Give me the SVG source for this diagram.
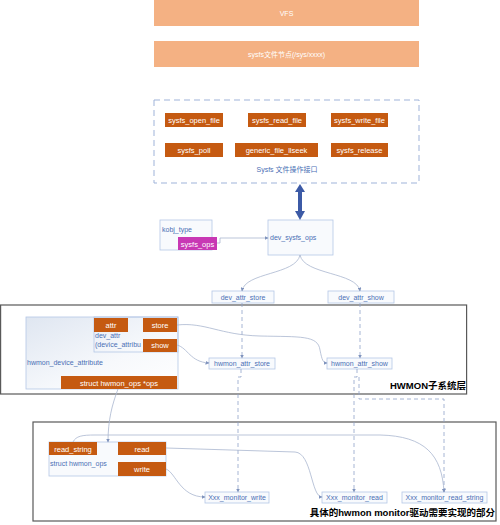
<svg xmlns="http://www.w3.org/2000/svg" width="500" height="525" viewBox="0 0 500 525">
<defs>
<linearGradient id="lg" x1="0" y1="0" x2="1" y2="1">
<stop offset="0" stop-color="#dfe6f1"/>
<stop offset="0.6" stop-color="#f7f9fc"/>
<stop offset="1" stop-color="#ffffff"/>
</linearGradient>
<marker id="ah" markerWidth="4" markerHeight="4" refX="3.5" refY="2" orient="auto" markerUnits="userSpaceOnUse">
<path d="M0,0 L4,2 L0,4 z" fill="#7f93bd"/>
</marker>
<style>
text{font-family:"Liberation Sans","Noto Sans CJK SC",sans-serif;}
.top{fill:#f4b183;}
.tw{fill:#ffffff;font-size:7px;text-anchor:middle;}
.ob{fill:#c55a11;}
.ow{fill:#ffffff;font-size:7.5px;text-anchor:middle;}
.lb{fill:url(#lg);stroke:#b4c7e7;stroke-width:0.8;}
.wb{fill:#f8fafd;stroke:#b4c7e7;stroke-width:0.8;}
.bt{fill:#4a6fb5;font-size:7px;}
.btc{fill:#4a6fb5;font-size:7px;text-anchor:middle;}
.layer{fill:none;stroke:#595959;stroke-width:1.2;}
.lbl{fill:#000000;font-size:9.5px;font-weight:bold;text-anchor:end;}
.cv{fill:none;stroke:#aab6cf;stroke-width:0.8;marker-end:url(#ah);}
.dsa{fill:none;stroke:#8fa2c9;stroke-width:0.8;stroke-dasharray:4,3;marker-end:url(#ah);}
</style>
</defs>

<g id="vfs"><rect class="top" x="154" y="0" width="265" height="26"/><text class="tw" x="286.5" y="16">VFS</text></g>
<g id="sysfs-node"><rect class="top" x="154" y="41" width="265" height="26"/><text class="tw" x="286.5" y="56.5">sysfs文件节点(/sys/xxxx)</text></g>

<g id="sysfs-ops-group">
<rect x="154" y="100" width="265" height="83" fill="#ffffff" stroke="#9fb3d9" stroke-width="1" stroke-dasharray="6,4"/>
<text class="btc" x="287" y="172">Sysfs 文件操作接口</text>
</g>
<g id="sysfs_open_file"><rect class="ob" x="165" y="113" width="58" height="14"/><text class="ow" x="194" y="122.5">sysfs_open_file</text></g>
<g id="sysfs_read_file"><rect class="ob" x="248" y="113" width="58" height="14"/><text class="ow" x="277" y="122.5">sysfs_read_file</text></g>
<g id="sysfs_write_file"><rect class="ob" x="331" y="113" width="57" height="14"/><text class="ow" x="359.5" y="122.5">sysfs_write_file</text></g>
<g id="sysfs_poll"><rect class="ob" x="165" y="143" width="58" height="14"/><text class="ow" x="194" y="152.5">sysfs_poll</text></g>
<g id="generic_file_llseek"><rect class="ob" x="235" y="143" width="83" height="14"/><text class="ow" x="276.5" y="152.5">generic_file_llseek</text></g>
<g id="sysfs_release"><rect class="ob" x="331" y="143" width="57" height="14"/><text class="ow" x="359.5" y="152.5">sysfs_release</text></g>

<g id="kobj_type">
<rect class="wb" x="160" y="220" width="52" height="30"/>
<text class="bt" x="162" y="232">kobj_type</text>
<rect x="178" y="237" width="39" height="13" fill="#c838b4"/>
<text class="ow" x="197.5" y="246.5">sysfs_ops</text>
</g>
<g id="dev_sysfs_ops"><rect class="wb" x="268" y="220" width="65" height="35"/><text class="bt" x="270" y="240">dev_sysfs_ops</text></g>
<g id="dev_attr_store"><rect class="wb" x="212" y="291" width="62" height="12"/><text class="btc" x="243" y="299.5">dev_attr_store</text></g>
<g id="dev_attr_show"><rect class="wb" x="328" y="291" width="66" height="12"/><text class="btc" x="361" y="299.5">dev_attr_show</text></g>

<g id="hwmon-layer">
<rect class="layer" x="0.6" y="305" width="466" height="89"/>
<text class="lbl" x="466" y="389">HWMON子系统层</text>
</g>
<g id="hwmon_device_attribute">
<rect class="lb" x="26" y="317" width="152" height="72"/>
<text class="bt" x="27" y="365">hwmon_device_attribute</text>
<rect x="94" y="317" width="84" height="35" fill="none" stroke="#b4c7e7" stroke-width="0.8"/>
<text class="bt" x="95" y="338">dev_attr</text>
<text class="bt" x="95" y="347">(device_attribu</text>
<rect class="ob" x="94" y="318" width="34" height="14"/><text class="ow" x="111" y="327.5">attr</text>
<rect class="ob" x="143" y="318" width="34" height="14"/><text class="ow" x="160" y="327.5">store</text>
<rect class="ob" x="143" y="339" width="34" height="13"/><text class="ow" x="160" y="348">show</text>
<rect class="ob" x="61" y="376" width="116" height="13"/><text class="ow" x="119" y="385.5">struct hwmon_ops *ops</text>
</g>
<g id="hwmon_attr_store"><rect class="wb" x="209" y="358" width="66" height="11"/><text class="btc" x="242" y="366">hwmon_attr_store</text></g>
<g id="hwmon_attr_show"><rect class="wb" x="327" y="358" width="65" height="11"/><text class="btc" x="359.5" y="366">hwmon_attr_show</text></g>

<g id="driver-layer">
<rect class="layer" x="33" y="422" width="463" height="99"/>
<text class="lbl" x="495" y="516">具体的hwmon monitor驱动需要实现的部分</text>
</g>
<g id="struct_hwmon_ops">
<rect class="wb" x="49" y="442" width="117" height="34"/>
<text class="bt" x="50" y="466">struct hwmon_ops</text>
<rect class="ob" x="49" y="442" width="48" height="13"/><text class="ow" x="73" y="451.5">read_string</text>
<rect class="ob" x="118" y="442" width="48" height="13"/><text class="ow" x="142" y="451.5">read</text>
<rect class="ob" x="118" y="462" width="48" height="14"/><text class="ow" x="142" y="472">write</text>
</g>
<g id="Xxx_monitor_write"><rect class="wb" x="205" y="492" width="64" height="11"/><text class="btc" x="237" y="500">Xxx_monitor_write</text></g>
<g id="Xxx_monitor_read"><rect class="wb" x="322" y="492" width="65" height="11"/><text class="btc" x="354.5" y="500">Xxx_monitor_read</text></g>
<g id="Xxx_monitor_read_string"><rect class="wb" x="402" y="492" width="85" height="11"/><text class="btc" x="444.5" y="500">Xxx_monitor_read_string</text></g>

<g id="connectors">
<line x1="300" y1="192" x2="300" y2="211" stroke="#3c5aa6" stroke-width="4"/>
<path d="M300,184 L305,192 L295,192 z" fill="#3c5aa6"/>
<path d="M300,220 L305,211 L295,211 z" fill="#3c5aa6"/>
<path class="cv" d="M217,243 L220,243 L220,238 L268,238"/>
<path class="cv" d="M300,255 C296,275 245,272 242,291"/>
<path class="cv" d="M300,255 C304,275 357,272 360,291"/>
<path class="dsa" d="M242,303 L242,358"/>
<path class="dsa" d="M360,303 L360,358"/>
<path class="cv" d="M177,325 C205,322 220,335 260,336 C300,337 318,335 320,350 C322,360 323,363 327,363"/>
<path class="cv" d="M177,345 C188,348 190,362 209,363"/>
<path class="cv" d="M118,389 C112,405 108,420 108,442"/>
<path class="dsa" d="M241,369 L241,377 L238,377 L238,492"/>
<path class="dsa" d="M357,369 L357,377 L354,377 L354,492"/>
<path class="dsa" d="M359,377 L359,399 L444,399 L444,492"/>
<path class="cv" d="M73,442 C76,436 82,435 95,435 L380,435 C425,436 442,455 444,492"/>
<path class="cv" d="M166,448 L295,452 C312,453 311,497 322,497"/>
<path class="cv" d="M166,469 C176,473 180,497 205,497"/>
</g>
</svg>
